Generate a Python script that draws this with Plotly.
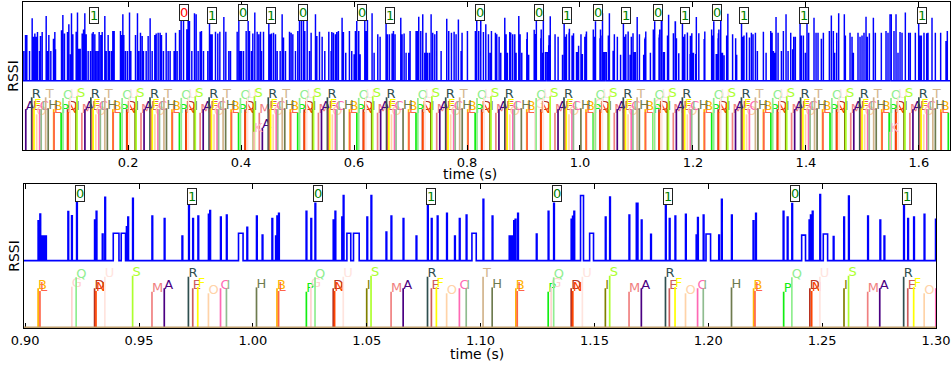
import plotly.graph_objects as go

# ---------------- RSSI trace (time in s, level in axis units 0..1) ----------------
RSSI_BASE = 0.468

# segment 0.01 - 0.29 s
seg1_t = [0.0153, 0.0183, 0.0206, 0.0254, 0.0301, 0.0324, 0.0348, 0.0372, 0.0395, 0.0431,
          0.0448, 0.0478, 0.0549, 0.0572, 0.0596, 0.0631, 0.0678, 0.0702, 0.0714, 0.0820,
          0.0844, 0.0873, 0.0926, 0.0950, 0.0979, 0.0997, 0.1021, 0.1080, 0.1103, 0.1127,
          0.1151, 0.1186, 0.1210, 0.1233, 0.1257, 0.1292, 0.1333, 0.1363, 0.1381, 0.1410,
          0.1434, 0.1463, 0.1487, 0.1516, 0.1540, 0.1587, 0.1611, 0.1646, 0.1670, 0.1705,
          0.1729, 0.1752, 0.1864, 0.1882, 0.1906, 0.1923, 0.1953, 0.1988, 0.2024, 0.2047,
          0.2130, 0.2165, 0.2189, 0.2218, 0.2248, 0.2271, 0.2319, 0.2354, 0.2389, 0.2425,
          0.2472, 0.2496, 0.2531, 0.2566, 0.2590, 0.2625, 0.2673, 0.2708, 0.2743, 0.2814,
          0.2838, 0.2867]
seg1_h = [0.664, 0.772, 0.772, 0.664, 0.885, 0.761, 0.782, 0.761, 0.793, 0.664,
          0.766, 0.793, 0.901, 0.664, 0.772, 0.664, 0.748, 0.793, 0.676, 0.804,
          0.908, 0.782, 0.793, 0.845, 0.642, 0.919, 0.777, 0.795, 0.924, 0.680,
          0.680, 0.782, 0.810, 0.919, 0.777, 0.664, 0.664, 0.782, 0.793, 0.777,
          0.664, 0.664, 0.793, 0.772, 0.793, 0.901, 0.664, 0.772, 0.664, 0.664,
          0.800, 0.800, 0.800, 0.772, 0.912, 0.772, 0.664, 0.664, 0.924, 0.664,
          0.772, 0.919, 0.664, 0.788, 0.766, 0.664, 0.664, 0.766, 0.885, 0.664,
          0.772, 0.782, 0.788, 0.788, 0.772, 0.664, 0.788, 0.664, 0.664, 0.664,
          0.788, 0.664]

# segment 0.29 - 0.56 s
seg2_t = [0.2909, 0.2938, 0.2980, 0.3039, 0.3062, 0.3086, 0.3127, 0.3174, 0.3204, 0.3239,
          0.3275, 0.3298, 0.3334, 0.3410, 0.3440, 0.3464, 0.3487, 0.3546, 0.3587, 0.3623,
          0.3694, 0.3729, 0.3782, 0.3812, 0.3930, 0.3959, 0.3983, 0.4006, 0.4042, 0.4089,
          0.4124, 0.4148, 0.4183, 0.4207, 0.4242, 0.4284, 0.4313, 0.4343, 0.4360, 0.4396,
          0.4490, 0.4514, 0.4537, 0.4573, 0.4608, 0.4638, 0.4691, 0.4726, 0.4750, 0.4785,
          0.4856, 0.4885, 0.4915, 0.4962, 0.5003, 0.5033, 0.5068, 0.5104, 0.5127, 0.5169,
          0.5210, 0.5239, 0.5316, 0.5340, 0.5387, 0.5434, 0.5481, 0.5552, 0.5593]
seg2_h = [0.806, 0.874, 0.867, 0.811, 0.867, 0.867, 0.664, 0.919, 0.912, 0.664,
          0.795, 0.799, 0.664, 0.664, 0.851, 0.777, 0.777, 0.795, 0.782, 0.795,
          0.894, 0.795, 0.664, 0.664, 0.795, 0.867, 0.664, 0.664, 0.664, 0.799,
          0.867, 0.799, 0.664, 0.782, 0.924, 0.795, 0.777, 0.795, 0.664, 0.795,
          0.851, 0.777, 0.782, 0.788, 0.777, 0.664, 0.664, 0.912, 0.755, 0.664,
          0.795, 0.788, 0.777, 0.664, 0.799, 0.867, 0.867, 0.867, 0.799, 0.874,
          0.664, 0.788, 0.912, 0.766, 0.795, 0.761, 0.664, 0.795, 0.664]

# segment 0.56 - 0.83 s
seg3_t = [0.5605, 0.5634, 0.5669, 0.5693, 0.5722, 0.5787, 0.5811, 0.5852, 0.5917, 0.5958,
          0.6000, 0.6023, 0.6047, 0.6082, 0.6106, 0.6189, 0.6212, 0.6236, 0.6318, 0.6354,
          0.6419, 0.6460, 0.6566, 0.6590, 0.6625, 0.6672, 0.6696, 0.6725, 0.6826, 0.6849,
          0.6885, 0.6920, 0.6967, 0.6991, 0.7097, 0.7121, 0.7144, 0.7180, 0.7215, 0.7251,
          0.7274, 0.7298, 0.7333, 0.7363, 0.7392, 0.7428, 0.7463, 0.7540, 0.7640, 0.7675,
          0.7723, 0.7770, 0.7805, 0.7846, 0.7894, 0.7911, 0.8006, 0.8147, 0.8171, 0.8206,
          0.8242, 0.8289]
seg3_h = [0.793, 0.788, 0.777, 0.793, 0.799, 0.890, 0.793, 0.653, 0.799, 0.664,
          0.642, 0.799, 0.867, 0.799, 0.642, 0.874, 0.799, 0.874, 0.919, 0.653,
          0.777, 0.761, 0.851, 0.777, 0.777, 0.782, 0.799, 0.777, 0.890, 0.777,
          0.782, 0.653, 0.653, 0.799, 0.799, 0.799, 0.896, 0.799, 0.912, 0.653,
          0.788, 0.653, 0.653, 0.912, 0.788, 0.777, 0.799, 0.664, 0.883, 0.799,
          0.788, 0.795, 0.777, 0.878, 0.664, 0.788, 0.799, 0.799, 0.867, 0.799,
          0.867, 0.793]

# segment 0.83 - 0.90 s
seg4_t = [0.8331, 0.8378, 0.8407, 0.8431, 0.8502, 0.8525, 0.8567, 0.8596, 0.8667, 0.8690,
          0.8714, 0.8755, 0.8773, 0.8808, 0.8844, 0.8867, 0.8915, 0.8938, 0.8968]
seg4_h = [0.845, 0.777, 0.653, 0.799, 0.788, 0.777, 0.761, 0.653, 0.890, 0.777,
          0.653, 0.793, 0.788, 0.777, 0.777, 0.653, 0.901, 0.777, 0.653]

# segment 0.90 - 1.30 s
seg5_t = [0.9057, 0.9065, 0.9072, 0.9078, 0.9084, 0.9090, 0.9188, 0.9204, 0.9226, 0.9305,
          0.9312, 0.9339, 0.9350, 0.9445, 0.9451, 0.9472, 0.9557, 0.9611, 0.9689, 0.9718,
          0.9736, 0.9759, 0.9805, 0.9811, 0.9858, 0.9884, 0.9974, 1.0016, 1.0041, 1.0084,
          1.0100, 1.0106, 1.0113, 1.0234, 1.0255, 1.0273, 1.0353, 1.0361, 1.0391, 1.0397,
          1.0501, 1.0519, 1.0585, 1.0607, 1.0660, 1.0717, 1.0767, 1.0784, 1.0810, 1.0851,
          1.0886, 1.0907, 1.0937, 1.1011, 1.1051, 1.1126, 1.1131, 1.1137, 1.1146, 1.1152,
          1.1163, 1.1245, 1.1297, 1.1321, 1.1398, 1.1404, 1.1410, 1.1548, 1.1567, 1.1652,
          1.1684, 1.1688, 1.1706, 1.1747, 1.1812, 1.1829, 1.1854, 1.1900, 1.1947, 1.1953,
          1.1978, 1.2046, 1.2058, 1.2102, 1.2197, 1.2208, 1.2329, 1.2347, 1.2367, 1.2443,
          1.2449, 1.2457, 1.2490, 1.2549, 1.2595, 1.2616, 1.2700, 1.2754, 1.2772, 1.2858,
          1.2876, 1.2902, 1.2948, 1.2998]
seg5_h = [0.745, 0.792, 0.639, 0.639, 0.639, 0.639, 0.808, 0.780, 0.877, 0.750,
          0.810, 0.653, 0.907, 0.703, 0.771, 0.900, 0.778, 0.760, 0.639, 0.850,
          0.760, 0.778, 0.790, 0.815, 0.770, 0.785, 0.700, 0.778, 0.645, 0.760,
          0.639, 0.778, 0.796, 0.810, 0.760, 0.866, 0.750, 0.810, 0.770, 0.920,
          0.770, 0.920, 0.667, 0.778, 0.760, 0.639, 0.856, 0.760, 0.778, 0.796,
          0.639, 0.760, 0.785, 0.894, 0.778, 0.639, 0.639, 0.639, 0.745, 0.755,
          0.796, 0.653, 0.810, 0.866, 0.755, 0.776, 0.810, 0.770, 0.910, 0.785,
          0.866, 0.866, 0.750, 0.650, 0.856, 0.760, 0.778, 0.790, 0.645, 0.767,
          0.785, 0.645, 0.894, 0.785, 0.745, 0.796, 0.810, 0.770, 0.865, 0.750,
          0.785, 0.810, 0.926, 0.635, 0.770, 0.917, 0.778, 0.750, 0.639, 0.850,
          0.760, 0.770, 0.790, 0.755]

# segment 1.30 - 1.38 s
seg6_t = [1.3033, 1.3062, 1.3104, 1.3139, 1.3245, 1.3293, 1.3375, 1.3399, 1.3422, 1.3446,
          1.3469, 1.3505, 1.3564, 1.3599, 1.3646, 1.3682, 1.3729, 1.3764]
seg6_h = [0.788, 0.777, 0.788, 0.664, 0.795, 0.653, 0.799, 0.788, 0.664, 0.653,
          0.894, 0.788, 0.664, 0.799, 0.912, 0.664, 0.788, 0.676]

# segment 1.38 - 1.66 s
seg7_t = [1.3782, 1.3811, 1.3894, 1.3917, 1.3953, 1.3988, 1.4017, 1.4047, 1.4141, 1.4177,
          1.4212, 1.4271, 1.4307, 1.4413, 1.4448, 1.4484, 1.4507, 1.4543, 1.4578, 1.4678,
          1.4696, 1.4779, 1.4814, 1.4838, 1.4920, 1.4956, 1.4991, 1.5026, 1.5062, 1.5085,
          1.5121, 1.5192, 1.5227, 1.5333, 1.5416, 1.5451, 1.5557, 1.5593, 1.5628, 1.5664,
          1.5699, 1.5758, 1.5817, 1.5846, 1.5935, 1.5994, 1.6018, 1.6041, 1.6088, 1.6136,
          1.6159, 1.6230, 1.6289, 1.6383, 1.6478, 1.6501]
seg7_h = [0.761, 0.761, 0.851, 0.770, 0.770, 0.653, 0.851, 0.788, 0.890, 0.788,
          0.788, 0.748, 0.788, 0.799, 0.905, 0.799, 0.653, 0.788, 0.919, 0.912,
          0.770, 0.788, 0.761, 0.653, 0.788, 0.761, 0.770, 0.788, 0.896, 0.761,
          0.784, 0.890, 0.788, 0.788, 0.799, 0.788, 0.799, 0.912, 0.653, 0.793,
          0.788, 0.924, 0.788, 0.788, 0.788, 0.851, 0.770, 0.770, 0.788, 0.784,
          0.788, 0.890, 0.788, 0.788, 0.732, 0.799]

# wider pulses (start, end, level)
plateau_start = [0.9387, 0.9422, 0.9937, 1.0413, 1.0442, 1.0962, 1.1439, 1.1479, 1.1990, 1.2410, 1.2505, 1.5487]
plateau_end   = [0.9412, 0.9441, 0.9957, 1.0430, 1.0467, 1.0981, 1.1452, 1.1496, 1.2010, 1.2427, 1.2524, 1.5512]
plateau_h     = [0.658, 0.658, 0.658, 0.658, 0.658, 0.658, 0.920, 0.658, 0.653, 0.645, 0.653, 0.912]

# ---------------- decoded bits (boxed labels) ----------------
bit_t     = [0.1341, 0.2942, 0.3435, 0.3989, 0.4482, 0.5036, 0.6083, 0.6576, 0.8177, 0.9226,
             0.9718, 1.0273, 1.0767, 1.1321, 1.1812, 1.2367, 1.2858, 1.3905, 1.5999]
bit_text  = ["1", "0", "1", "0", "1", "0", "0", "1", "0", "0",
             "1", "0", "1", "0", "1", "0", "1", "1", "1"]
bit_ok    = [True, False, True, True, True, True, True, True, True, True,
             True, True, True, True, True, True, True, True, True]

# ---------------- event markers ----------------
ev_B = [0.0683, 0.1730, 0.2777, 0.3824, 0.4871, 0.5918, 0.6965, 0.8012, 0.9057, 1.0106, 1.1155, 1.2199, 1.3247, 1.4294, 1.5341, 1.6388]
ev_L = [0.0690, 0.1737, 0.2784, 0.3831, 0.4878, 0.5925, 0.6972, 0.8019, 0.9065, 1.0113, 1.1161, 1.2205, 1.3254, 1.4301, 1.5348, 1.6395]
ev_P = [0.0815, 0.1862, 0.2909, 0.3956, 0.5003, 0.6050, 0.7097, 0.8144, 1.0235, 1.1297, 1.2331, 1.3379, 1.4426, 1.5473, 1.6520]
ev_G = [0.9205, 1.0255, 1.1310]
ev_Q = [0.0848, 0.1895, 0.2942, 0.3989, 0.5036, 0.6083, 0.7130, 0.8177, 0.9224, 1.0273, 1.1321, 1.2367, 1.3412, 1.4459, 1.5506]
ev_D = [0.0929, 0.1976, 0.3023, 0.4070, 0.5117, 0.6164, 0.7211, 0.8258, 0.9305, 1.0353, 1.1398, 1.2446, 1.3493, 1.4540, 1.5587]
ev_N = [0.0936, 0.1983, 0.3030, 0.4077, 0.5124, 0.6171, 0.7218, 0.8265, 0.9311, 1.0359, 1.1405, 1.2454, 1.3500, 1.4547, 1.5594]
ev_U = [0.0974, 0.2021, 0.3068, 0.4115, 0.5162, 0.6209, 0.7256, 0.8303, 0.9350, 1.0397, 1.1447, 1.2490, 1.3538, 1.4585, 1.5632]
ev_I = [0.1078, 0.2125, 0.3172, 0.4219, 0.5266, 0.6313, 0.7360, 0.8407, 1.0500, 1.1548, 1.2596, 1.3642, 1.4689, 1.5736]
ev_S = [0.1096, 0.2143, 0.3190, 0.4237, 0.5284, 0.6331, 0.7378, 0.8425, 0.9472, 1.0519, 1.1567, 1.2616, 1.3660, 1.4707, 1.5754]
ev_M = [0.1182, 0.2229, 0.3276, 0.4323, 0.5370, 0.6417, 0.7464, 0.8511, 0.9557, 1.0607, 1.1652, 1.2700, 1.3746, 1.4793, 1.5840]
ev_A = [0.0189, 0.1236, 0.2283, 0.3330, 0.5424, 0.6471, 0.7518, 0.8565, 0.9611, 1.0660, 1.1706, 1.2753, 1.3800, 1.4847, 1.5894]
ev_R = [0.0294, 0.1341, 0.2388, 0.3435, 0.4482, 0.5529, 0.6576, 0.7623, 0.8670, 0.9717, 1.0767, 1.1812, 1.2858, 1.3905, 1.4952, 1.5999]
ev_E = [0.0313, 0.1360, 0.2407, 0.3454, 0.4501, 0.5548, 0.6595, 0.7642, 0.8689, 0.9736, 1.0784, 1.1829, 1.2876, 1.3924, 1.4971, 1.6018]
ev_F = [0.0335, 0.1382, 0.2429, 0.3476, 0.4523, 0.5570, 0.6617, 0.7664, 0.8711, 0.9758, 1.0806, 1.1854, 1.2902, 1.3946, 1.4993, 1.6040]
ev_O = [0.0381, 0.1428, 0.2475, 0.3522, 0.4569, 0.5616, 0.6663, 0.7710, 0.8757, 0.9805, 1.0851, 1.1900, 1.2948, 1.3992, 1.5039, 1.6086]
ev_C = [0.0435, 0.1482, 0.2529, 0.3576, 0.4623, 0.5670, 0.6717, 0.7764, 0.8811, 0.9858, 1.0907, 1.1953, 1.2999, 1.4046, 1.5093, 1.6140]
ev_J = [0.0462, 0.1509, 0.2556, 0.3603, 0.4650, 0.5697, 0.6744, 0.7791, 0.8838, 0.9884, 1.0937, 1.1978, 1.4073, 1.5120, 1.6167]
ev_T = [0.0541, 0.1588, 0.2635, 0.3682, 0.4729, 0.7870, 1.1011, 1.3105, 1.4152, 1.5199, 1.6246]
ev_H = [0.0586, 0.1633, 0.2680, 0.3727, 0.4774, 0.5821, 0.6868, 0.7915, 0.8962, 1.0016, 1.1051, 1.2102, 1.3150, 1.4197, 1.5244, 1.6291]
ev_K = [0.4230, 1.5490]
ev_A_low = [0.4377]

# (label, times, level, colour)
events = [
    ("B", ev_B, 0.276, "#FFB300"),
    ("L", ev_L, 0.257, "#FF6347"),
    ("P", ev_P, 0.252, "#11EE11"),
    ("G", ev_G, 0.287, "#FFD3CF"),
    ("Q", ev_Q, 0.352, "#90EE90"),
    ("D", ev_D, 0.276, "#B83220"),
    ("N", ev_N, 0.257, "#FF4500"),
    ("U", ev_U, 0.356, "#FFE4DE"),
    ("I", ev_I, 0.276, "#808000"),
    ("S", ev_S, 0.363, "#ADFF2F"),
    ("M", ev_M, 0.252, "#F08080"),
    ("A", ev_A, 0.276, "#4B0082"),
    ("A", ev_A_low, 0.150, "#4B0082"),
    ("K", ev_K, 0.124, "#FFB6C1"),
    ("R", ev_R, 0.356, "#2F4F4F"),
    ("E", ev_E, 0.276, "#CD5C5C"),
    ("F", ev_F, 0.285, "#FFFF00"),
    ("O", ev_O, 0.241, "#FFD3A8"),
    ("C", ev_C, 0.276, "#FF69B4"),
    ("I", ev_J, 0.276, "#8FBC8F"),
    ("T", ev_T, 0.356, "#D2B48C"),
    ("H", ev_H, 0.282, "#6E7B4F"),
]

SPIKE_W = 0.0003
TEXT_DROP = 0.026          # plotly's 'top right' text sits a few px above the point
FONT = "DejaVu Sans"
W, H = 951, 367

# ---------------- build RSSI step series ----------------
seg_t = seg1_t + seg2_t + seg3_t + seg4_t + seg5_t + seg6_t + seg7_t
seg_h = seg1_h + seg2_h + seg3_h + seg4_h + seg5_h + seg6_h + seg7_h
assert len(seg_t) == len(seg_h)

pulses = [(t, t + SPIKE_W, h) for t, h in zip(seg_t, seg_h)]
pulses += list(zip(plateau_start, plateau_end, plateau_h))
pulses.sort()
rx, ry = [0.0], [RSSI_BASE]
for a, b, h in pulses:
    rx += [a, b]
    ry += [h, RSSI_BASE]
rx.append(1.75)
ry.append(RSSI_BASE)

fig = go.Figure()

# (xaxis, yaxis, rssi line width, visible range)
panels = [("x", "y", 1.3, (0.014, 1.655)), ("x2", "y2", 1.6, (0.8995, 1.30))]
for xa, ya, lw, rng in panels:
    fig.add_trace(go.Scatter(x=rx, y=ry, mode="lines", xaxis=xa, yaxis=ya,
                             line=dict(color="#0000FF", width=lw, shape="hv"),
                             hoverinfo="skip", showlegend=False))

for xa, ya, lw, (lo, hi) in panels:
    for label, times, lvl, col in events:
        vis = [t for t in times if lo <= t <= hi]
        if not vis:
            continue
        lx, ly = [], []
        for t in vis:
            lx += [t, t, None]
            ly += [0, lvl, None]
        fig.add_trace(go.Scatter(x=lx, y=ly, mode="lines", xaxis=xa, yaxis=ya,
                                 line=dict(color=col, width=1.7),
                                 hoverinfo="skip", showlegend=False))
        txt_t = [t for t in vis if t <= hi - (hi - lo) * 0.008]
        if txt_t:
            fig.add_trace(go.Scatter(x=txt_t, y=[lvl - TEXT_DROP] * len(txt_t), mode="text",
                                     text=[label] * len(txt_t), textposition="top right",
                                     textfont=dict(family=FONT, size=13, color=col),
                                     xaxis=xa, yaxis=ya, hoverinfo="skip", showlegend=False))

# boxed bit labels
annotations = []
for xa, ya, lw, (lo, hi) in panels:
    for t, txt, ok in zip(bit_t, bit_text, bit_ok):
        if lo <= t <= hi - 0.004:
            annotations.append(dict(
                x=t, y=(0.872 if txt == "0" else 0.851), xref=xa, yref=ya,
                text=txt, showarrow=False, xanchor="left", yanchor="bottom", xshift=-2,
                font=dict(family=FONT, size=13, color=("#008000" if ok else "#FF0000")),
                bgcolor="white", bordercolor="#222222", borderwidth=1, borderpad=0))

annotations.append(dict(x=470 / W, y=1 - 174 / H, xref="paper", yref="paper", text="time (s)",
                        showarrow=False, font=dict(family=FONT, size=14, color="black"),
                        xanchor="center", yanchor="middle"))
annotations.append(dict(x=477 / W, y=1 - 354 / H, xref="paper", yref="paper", text="time (s)",
                        showarrow=False, font=dict(family=FONT, size=14, color="black"),
                        xanchor="center", yanchor="middle"))

xcommon = dict(showline=True, linecolor="black", linewidth=1, mirror="ticks", ticks="inside",
               ticklen=5, tickcolor="black", showgrid=False, zeroline=False, automargin=False,
               tickfont=dict(family=FONT, size=13, color="black"))
ycommon = dict(showline=True, linecolor="black", linewidth=1, mirror=True, ticks="",
               showticklabels=False, showgrid=False, zeroline=False, range=[0, 1],
               automargin=False,
               title=dict(text="RSSI", font=dict(family=FONT, size=14, color="black"), standoff=0))

fig.update_layout(
    width=W, height=H, autosize=False, margin=dict(l=0, r=0, t=0, b=0, pad=0, autoexpand=False),
    paper_bgcolor="white", plot_bgcolor="white",
    xaxis=dict(domain=[23 / W, 950 / W], anchor="y", range=[0.014, 1.655],
               tick0=0, dtick=0.2, tickformat=".1f", **xcommon),
    yaxis=dict(domain=[1 - 150 / H, 1 - 2 / H], anchor="x", **ycommon),
    xaxis2=dict(domain=[24 / W, 936 / W], anchor="y2", range=[0.8995, 1.30],
                tick0=0, dtick=0.05, tickformat=".2f", **xcommon),
    yaxis2=dict(domain=[1 - 328 / H, 1 - 184 / H], anchor="x2", **ycommon),
    annotations=annotations,
    shapes=[dict(type="line", xref="x2 domain", yref="y2", x0=0, x1=1, y0=0.004, y1=0.004,
                 line=dict(color="#C0A070", width=2))],
)

fig.write_html("out.html", config={"responsive": False, "displayModeBar": False},
               post_script="document.body.style.margin='0px';document.body.style.overflow='hidden';")
